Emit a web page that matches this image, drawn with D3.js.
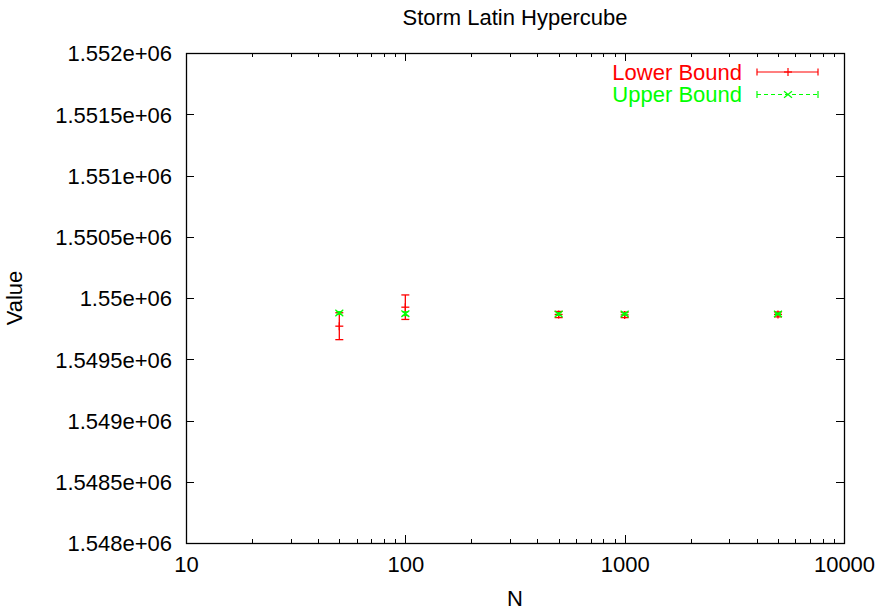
<!DOCTYPE html>
<html>
<head>
<meta charset="utf-8">
<script src="https://cdn.jsdelivr.net/npm/d3@7/dist/d3.min.js"></script>
<style>
  html, body { margin: 0; padding: 0; background: #fff; }
  svg { display: block; font-family: "Liberation Sans", Arial, Helvetica, sans-serif; }
</style>
</head>
<body>
<svg id="chart" width="882" height="610"></svg>
<script>
// Sample sizes
const sampleSizes = [50, 100, 500, 1000, 5000];
// Lower bound estimates and their error half-widths
const lowerValues = [1549770, 1549925, 1549865, 1549862, 1549866];
const lowerErrors = [110, 100, 25, 22, 20];
// Upper bound estimates and their error half-widths
const upperValues = [1549878, 1549872, 1549869, 1549870, 1549870];
const upperErrors = [10, 15, 10, 8, 6];

const xTicks = [10, 100, 1000, 10000];
const yTicks = [1548000, 1548500, 1549000, 1549500, 1550000, 1550500, 1551000, 1551500, 1552000];
const yTickLabels = ["1.548e+06", "1.5485e+06", "1.549e+06", "1.5495e+06", "1.55e+06",
                     "1.5505e+06", "1.551e+06", "1.5515e+06", "1.552e+06"];

const series = [
  { name: "Lower Bound", color: "#ff0000", values: lowerValues, errors: lowerErrors, marker: "plus", dash: null },
  { name: "Upper Bound", color: "#00ff00", values: upperValues, errors: upperErrors, marker: "cross", dash: "4,3" }
];

const svg = d3.select("#chart");
const plotLeft = 186, plotRight = 844, plotTop = 53, plotBottom = 543;
const fontSize = 22;

const x = d3.scaleLog().domain([10, 10000]).range([plotLeft, plotRight]);
const y = d3.scaleLinear().domain([1548000, 1552000]).range([plotBottom, plotTop]);

// Minor ticks on the log axis
const minorX = [];
for (let d = 10; d < 10000; d *= 10) {
  for (let k = 2; k <= 9; k++) minorX.push(d * k);
}

const g = svg.append("g");

// Bottom axis labels
const xAxis = d3.axisBottom(x).tickValues(xTicks).tickFormat(d3.format("d")).tickSize(0).tickPadding(0);
const xg = g.append("g").attr("transform", `translate(0,${plotBottom})`).call(xAxis);
xg.select(".domain").remove();
xg.selectAll("text").attr("font-size", fontSize).attr("fill", "#000").attr("dy", null).attr("y", 29);
xg.attr("font-family", null).attr("font-size", null);

// Left axis labels
const yAxis = d3.axisLeft(y).tickValues(yTicks).tickFormat((d, i) => yTickLabels[i]).tickSize(0).tickPadding(14);
const yg = g.append("g").attr("transform", `translate(${plotLeft},0)`).call(yAxis);
yg.select(".domain").remove();
yg.selectAll("text").attr("font-size", fontSize).attr("fill", "#000").attr("dy", "0.36em");
yg.attr("font-family", null).attr("font-size", null);

// Tick marks on all four sides (inward)
const tickG = g.append("g").attr("stroke", "#000").attr("stroke-width", 1);
xTicks.forEach(v => {
  const px = Math.round(x(v)) + 0.5;
  tickG.append("line").attr("x1", px).attr("x2", px).attr("y1", plotBottom).attr("y2", plotBottom - 8);
  tickG.append("line").attr("x1", px).attr("x2", px).attr("y1", plotTop).attr("y2", plotTop + 8);
});
minorX.forEach(v => {
  const px = Math.round(x(v)) + 0.5;
  tickG.append("line").attr("x1", px).attr("x2", px).attr("y1", plotBottom).attr("y2", plotBottom - 4);
  tickG.append("line").attr("x1", px).attr("x2", px).attr("y1", plotTop).attr("y2", plotTop + 4);
});
yTicks.forEach(v => {
  const py = Math.round(y(v)) + 0.5;
  tickG.append("line").attr("x1", plotLeft).attr("x2", plotLeft + 8).attr("y1", py).attr("y2", py);
  tickG.append("line").attr("x1", plotRight).attr("x2", plotRight - 8).attr("y1", py).attr("y2", py);
});

// Plot frame
g.append("rect").attr("x", plotLeft + 0.5).attr("y", plotTop + 0.5)
  .attr("width", plotRight - plotLeft).attr("height", plotBottom - plotTop)
  .attr("fill", "none").attr("stroke", "#000").attr("stroke-width", 1.3);

// Titles
svg.append("text").attr("x", 515).attr("y", 25).attr("text-anchor", "middle")
  .attr("font-size", fontSize).text("Storm Latin Hypercube");
svg.append("text").attr("x", 515).attr("y", 606).attr("text-anchor", "middle")
  .attr("font-size", fontSize).text("N");
svg.append("text").attr("transform", `translate(22,${(plotTop + plotBottom) / 2}) rotate(-90)`)
  .attr("text-anchor", "middle").attr("font-size", fontSize).text("Value");

function drawMarker(sel, cx, cy, type, color) {
  const s = 4;
  if (type === "plus") {
    sel.append("line").attr("x1", cx - s).attr("x2", cx + s).attr("y1", cy).attr("y2", cy).attr("stroke", color);
    sel.append("line").attr("x1", cx).attr("x2", cx).attr("y1", cy - s).attr("y2", cy + s).attr("stroke", color);
  } else {
    sel.append("line").attr("x1", cx - s).attr("x2", cx + s).attr("y1", cy - s * 0.8).attr("y2", cy + s * 0.8).attr("stroke", color);
    sel.append("line").attr("x1", cx - s).attr("x2", cx + s).attr("y1", cy + s * 0.8).attr("y2", cy - s * 0.8).attr("stroke", color);
  }
}

// Error bars and points
series.forEach(s => {
  const sg = svg.append("g").attr("stroke-width", 1.3);
  sampleSizes.forEach((n, i) => {
    const cx = x(n);
    const yHi = y(s.values[i] + s.errors[i]);
    const yLo = y(s.values[i] - s.errors[i]);
    const cap = s.marker === "plus" ? 4 : 3;
    sg.append("line").attr("x1", cx).attr("x2", cx).attr("y1", yHi).attr("y2", yLo).attr("stroke", s.color);
    sg.append("line").attr("x1", cx - cap).attr("x2", cx + cap).attr("y1", yHi).attr("y2", yHi).attr("stroke", s.color);
    sg.append("line").attr("x1", cx - cap).attr("x2", cx + cap).attr("y1", yLo).attr("y2", yLo).attr("stroke", s.color);
    drawMarker(sg, cx, y(s.values[i]), s.marker, s.color);
  });
});

// Legend
series.forEach((s, i) => {
  const ly = 72 + i * 22.5;
  const lg = svg.append("g").attr("stroke-width", 1.2);
  svg.append("text").attr("x", 742).attr("y", ly).attr("dy", "0.36em").attr("text-anchor", "end")
    .attr("font-size", fontSize).attr("fill", s.color).text(s.name);
  const x1 = 757, x2 = 818, xm = 788;
  lg.append("line").attr("x1", x1).attr("x2", x2).attr("y1", ly).attr("y2", ly)
    .attr("stroke", s.color).attr("stroke-dasharray", s.dash);
  lg.append("line").attr("x1", x1).attr("x2", x1).attr("y1", ly - 3.5).attr("y2", ly + 3.5).attr("stroke", s.color);
  lg.append("line").attr("x1", x2).attr("x2", x2).attr("y1", ly - 3.5).attr("y2", ly + 3.5).attr("stroke", s.color);
  drawMarker(lg, xm, ly, s.marker, s.color);
});
</script>
</body>
</html>
